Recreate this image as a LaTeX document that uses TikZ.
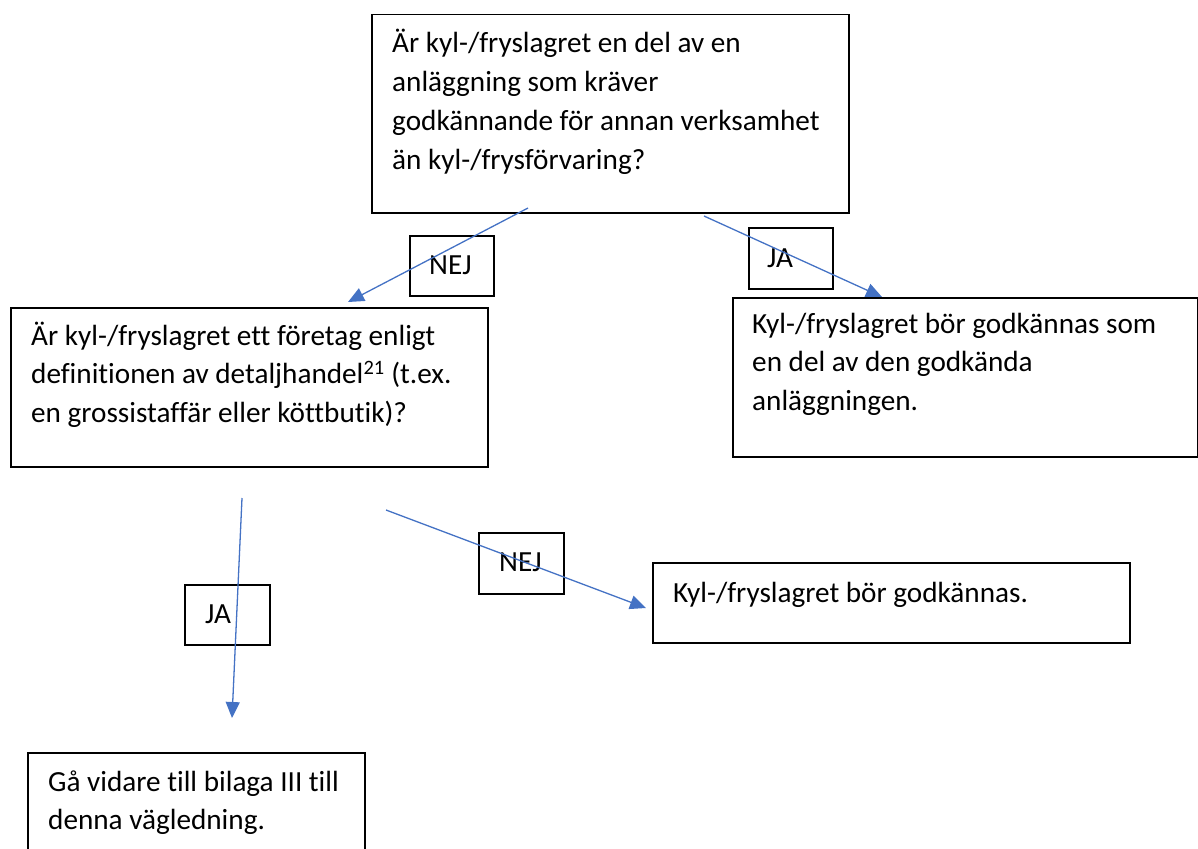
\documentclass[tikz,border=0pt]{standalone}
\usepackage{fontspec}
\setmainfont{Carlito}[Ligatures=CommonOff]
\usetikzlibrary{arrows.meta,calc}
\definecolor{arrowblue}{HTML}{4472C4}
\newcommand{\linesbox}[1]{\parbox[t]{16cm}{\raggedright #1}}
\tikzset{
  box/.style={draw=black, line width=1.5pt, rectangle, inner sep=0pt, anchor=north west},
  txt/.style={anchor=base west, inner sep=0pt, font=\fontsize{29.2}{38.8}\selectfont},
  flow/.style={draw=arrowblue, line width=1.3pt, -{Triangle[length=16pt,width=14pt]}},
}
\begin{document}
\begin{tikzpicture}[x=1pt,y=-1pt]
\clip (0,0) rectangle (1198,848);
\useasboundingbox (0,0) rectangle (1198,848);
% main boxes
\node[box, minimum width=477pt, minimum height=198pt] (q1) at (371,14) {};
\node[box, minimum width=477pt, minimum height=159pt] (q2) at (10,307) {};
\node[box, minimum width=464.5pt, minimum height=159pt] (r1) at (732,297) {};
\node[box, minimum width=477pt, minimum height=80pt] (r2) at (652,562) {};
\node[box, minimum width=337pt, minimum height=130pt] (r3) at (27,752) {};
% texts
\node[txt] (q1t) at ($(q1.north west)+(21,39)$) {\linesbox{Är kyl-/fryslagret en del av en\\anläggning som kräver\\godkännande för annan verksamhet\\än kyl-/frysförvaring?}};
\node[txt] (q2t) at ($(q2.north west)+(21,38)$) {\linesbox{Är kyl-/fryslagret ett företag enligt\\definitionen av detaljhandel\textsuperscript{21} (t.ex.\\en grossistaffär eller köttbutik)?}};
\node[txt] (r1t) at ($(r1.north west)+(20,36)$) {\linesbox{Kyl-/fryslagret bör godkännas som\\en del av den godkända\\anläggningen.}};
\node[txt] (r2t) at ($(r2.north west)+(21,40)$) {Kyl-/fryslagret bör godkännas.};
\node[txt] (r3t) at ($(r3.north west)+(21,39)$) {\linesbox{Gå vidare till bilaga III till\\denna vägledning.}};
% label boxes
\node[box, minimum width=84pt, minimum height=60pt] (l1) at (409,235) {};
\node[box, minimum width=84pt, minimum height=61pt] (l2) at (748,227) {};
\node[box, minimum width=85pt, minimum height=61pt] (l3) at (478,532) {};
\node[box, minimum width=85pt, minimum height=60pt] (l4) at (184,584) {};
\node[txt] (l1t) at ($(l1.north west)+(20,39)$) {NEJ};
\node[txt] (l2t) at ($(l2.north west)+(19,40)$) {JA};
\node[txt] (l3t) at ($(l3.north west)+(21,39)$) {NEJ};
\node[txt] (l4t) at ($(l4.north west)+(21,39)$) {JA};
% arrow ends
\coordinate (a1s) at (528,208);
\coordinate (a1e) at (348,302);
\coordinate (a2s) at (704,216);
\coordinate (a2e) at (882,297);
\coordinate (a3s) at (242,498);
\coordinate (a3e) at (232,718);
\coordinate (a4s) at (386,510);
\coordinate (a4e) at (646,608);
\draw[flow] (a1s) -- (a1e);
\draw[flow] (a2s) -- (a2e);
\draw[flow] (a3s) -- (a3e);
\draw[flow] (a4s) -- (a4e);
\end{tikzpicture}
\end{document}
